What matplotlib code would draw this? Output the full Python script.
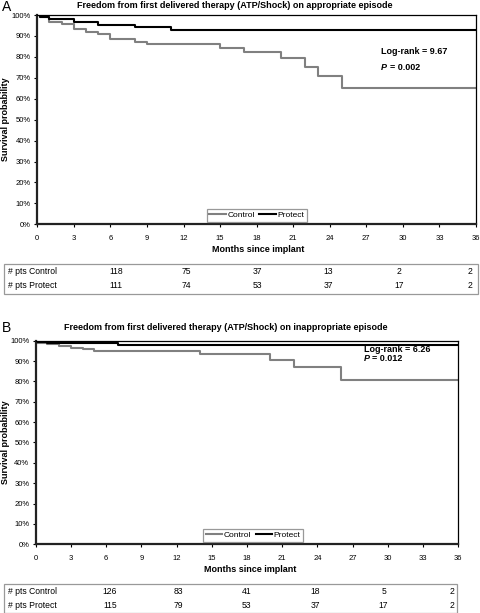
import matplotlib
matplotlib.use('Agg')
import matplotlib.pyplot as plt
from matplotlib.patches import Rectangle
import numpy as np

plt.rcParams['font.family'] = ['Liberation Sans', 'DejaVu Sans']

# panel A - appropriate episode
a_ctrl_t = [0, 0.2, 1, 2, 3, 4, 5, 6, 8, 9, 15, 17, 20, 22, 23, 25, 36]
a_ctrl_s = [100, 99.2, 96.5, 95.7, 93.3, 92.0, 90.9, 88.4, 86.9, 86.0, 84.1, 82.1, 79.3, 75.3, 70.8, 64.9, 64.9]
a_prot_t = [0, 0.2, 1, 3, 5, 8, 11, 36]
a_prot_s = [100, 99.2, 98.1, 96.8, 95.2, 94.1, 93.0, 93.0]
a_n_ctrl = [118, 75, 37, 13, 2, 2]
a_n_prot = [111, 74, 53, 37, 17, 2]

# panel B - inappropriate episode
b_ctrl_t = [0, 0.1, 1, 2, 3, 4, 5, 6, 14, 20, 22, 26, 36]
b_ctrl_s = [100, 99.0, 98.2, 97.2, 96.4, 95.8, 94.9, 94.7, 93.3, 90.5, 87.0, 80.7, 80.7]
b_prot_t = [0, 0.1, 1, 7, 36]
b_prot_s = [100, 99.5, 99.0, 97.8, 97.8]
b_n_ctrl = [126, 83, 41, 18, 5, 2]
b_n_prot = [115, 79, 53, 37, 17, 2]

W, H = 480, 613
fig = plt.figure(figsize=(W / 100, H / 100), dpi=100)


def fx(x):
    return x / W


def fy(y):
    return 1 - y / H


def km_panel(box, letter, letter_y, title, title_x, ct, cs, pt, ps, lr, pv, txt, leg_x, xlab_x):
    l, t, r, b = box
    ax = fig.add_axes([fx(l), fy(b), (r - l) / W, (b - t) / H])
    ax.step(ct, cs, where='post', color='#808080', lw=1.5, label='Control')
    ax.step(pt, ps, where='post', color='black', lw=1.5, label='Protect')
    ax.set_xlim(0, 36)
    ax.set_ylim(0, 100)
    ax.set_xticks(np.arange(0, 37, 3))
    ax.set_yticks(np.arange(0, 101, 10))
    ax.set_yticklabels(['%d%%' % v for v in range(0, 101, 10)])
    ax.tick_params(labelsize=5.5, length=2.5, width=0.8, pad=2)
    ax.tick_params(axis='x', pad=5)
    for s in ['left', 'bottom']:
        ax.spines[s].set_linewidth(1.6)
        ax.spines[s].set_color('#222222')
    for s in ['top', 'right']:
        ax.spines[s].set_linewidth(0.9)
    ax.set_ylabel('Survival probability', fontsize=6.5, fontweight='bold')
    ax.yaxis.set_label_coords(-(l - 10) / (r - l), 0.5)
    fig.text(fx(xlab_x), fy(b + 25), 'Months since implant', fontsize=6.5,
             fontweight='bold', ha='center', va='center')
    fig.text(fx(title_x), fy(letter_y), title, fontsize=6.5, fontweight='bold',
             ha='center', va='center')
    fig.text(fx(2), fy(letter_y + 1), letter, fontsize=10, va='center')
    fig.text(fx(txt[0]), fy(txt[1]), 'Log-rank = %s' % lr, fontsize=6.5,
             fontweight='bold', va='center')
    fig.text(fx(txt[0]), fy(txt[1] + txt[2]), 'P', fontsize=6.5,
             fontweight='bold', fontstyle='italic', va='center')
    fig.text(fx(txt[0] + 8.5), fy(txt[1] + txt[2]), '= %s' % pv, fontsize=6.5,
             fontweight='bold', va='center')
    leg = ax.legend(loc='lower left', bbox_to_anchor=(leg_x, 0.0), ncol=2, fontsize=6,
                    frameon=True, fancybox=False, edgecolor='#808080', borderaxespad=0.3,
                    handlelength=2.0, handletextpad=0.2, columnspacing=0.5,
                    borderpad=0.3)
    leg.get_frame().set_linewidth(0.9)
    return ax


def pts_table(l, t, r, b, xs, n_ctrl, n_prot):
    fig.patches.append(Rectangle((fx(l), fy(b)), (r - l) / W, (b - t) / H,
                                 transform=fig.transFigure, fill=False,
                                 edgecolor='#999999', lw=0.9))
    y1 = t + (b - t) * 0.26
    y2 = t + (b - t) * 0.75
    fig.text(fx(l + 5), fy(y1), '# pts Control', fontsize=6.2, va='center')
    fig.text(fx(l + 5), fy(y2), '# pts Protect', fontsize=6.2, va='center')
    for x, a, c in zip(xs, n_ctrl, n_prot):
        fig.text(fx(x), fy(y1), str(a), fontsize=6.2, va='center', ha='center')
        fig.text(fx(x), fy(y2), str(c), fontsize=6.2, va='center', ha='center')


km_panel((37.3, 15, 476, 224.3), 'A', 6,
         'Freedom from first delivered therapy (ATP/Shock) on appropriate episode', 235,
         a_ctrl_t, a_ctrl_s, a_prot_t, a_prot_s, '9.67', '0.002', (381, 52, 16), 0.38, 258)
pts_table(3.5, 263.5, 478, 293.5, np.linspace(116, 470, 6), a_n_ctrl, a_n_prot)

km_panel((35.7, 340.7, 458.3, 544.3), 'B', 327,
         'Freedom from first delivered therapy (ATP/Shock) on inappropriate episode', 226,
         b_ctrl_t, b_ctrl_s, b_prot_t, b_prot_s, '6.26', '0.012', (364, 349, 9.5), 0.39, 250)
pts_table(3.5, 583.5, 456.5, 612.5, np.linspace(110, 452, 6), b_n_ctrl, b_n_prot)

fig.savefig('out.png', dpi=100)
